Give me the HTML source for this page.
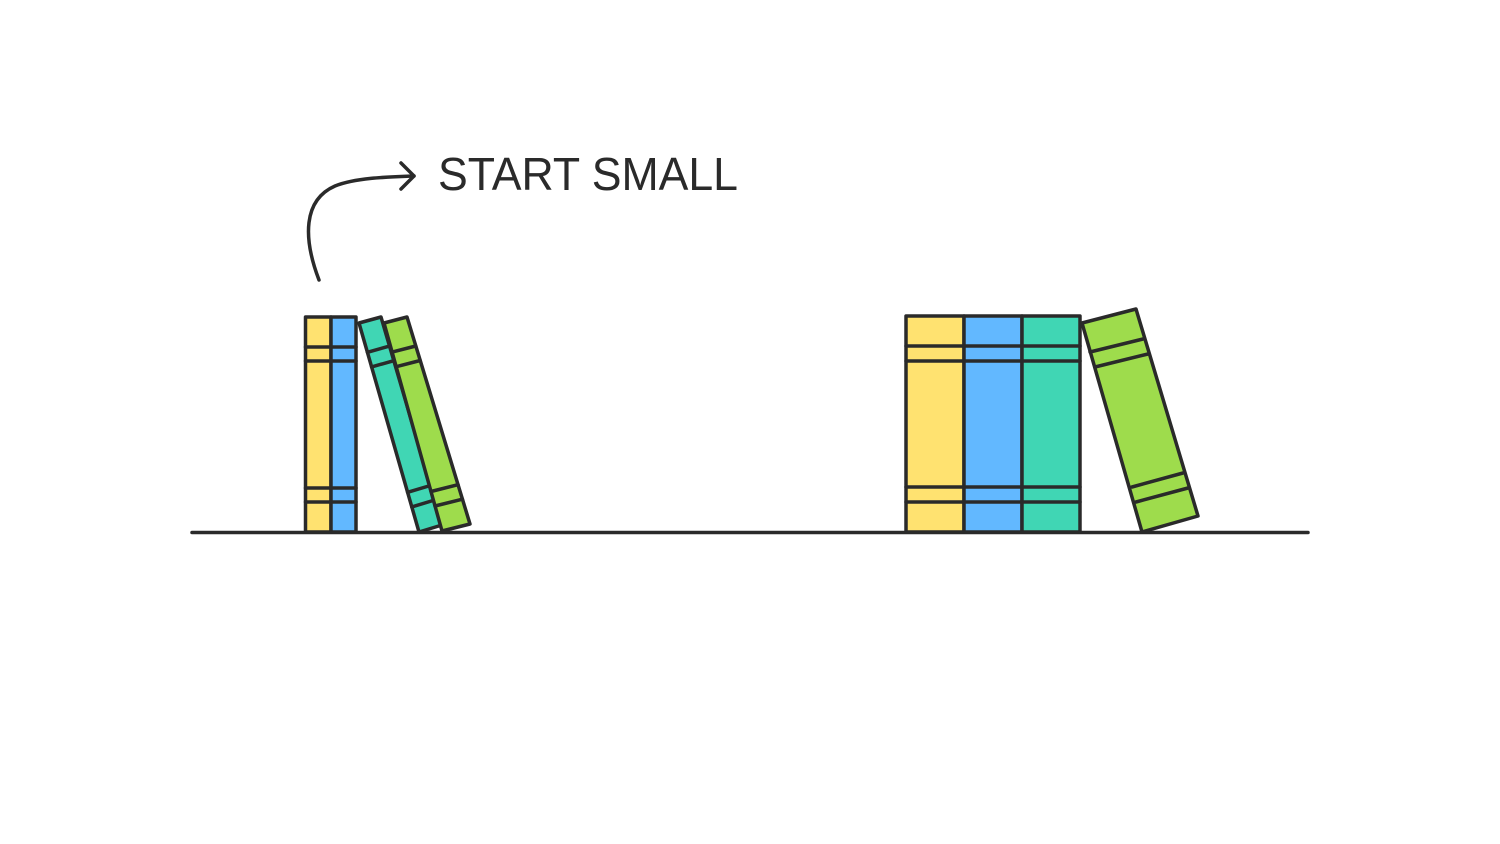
<!DOCTYPE html>
<html><head><meta charset="utf-8"><style>
html,body{margin:0;padding:0;background:#fff;width:1500px;height:844px;overflow:hidden}
</style></head><body>
<svg width="1500" height="844" viewBox="0 0 1500 844" xmlns="http://www.w3.org/2000/svg">
<g stroke="#2a2a2a" stroke-width="3.5" stroke-linejoin="round" stroke-linecap="round">
<rect x="305.5" y="317" width="25.5" height="215" fill="#FFE270"/>
<rect x="331" y="317" width="25" height="215" fill="#62B8FF"/>
<line x1="305.5" y1="347" x2="356" y2="347"/>
<line x1="305.5" y1="361" x2="356" y2="361"/>
<line x1="305.5" y1="488" x2="356" y2="488"/>
<line x1="305.5" y1="502" x2="356" y2="502"/>
<polygon points="359,323 381,317 442,525 419,532" fill="#40D6B4"/>
<line x1="367.4" y1="352.3" x2="389.5" y2="346.1"/>
<line x1="371.6" y1="366.9" x2="393.8" y2="360.7"/>
<line x1="407.6" y1="492.3" x2="430.4" y2="485.5"/>
<line x1="411.8" y1="506.9" x2="434.7" y2="500"/>
<polygon points="384,323 407,317 470,524 442,531" fill="#9EDC4C"/>
<line x1="392.1" y1="352.1" x2="415.8" y2="346"/>
<line x1="396.2" y1="366.7" x2="420.2" y2="360.5"/>
<line x1="431" y1="491.5" x2="458" y2="484.7"/>
<line x1="435" y1="506" x2="462.4" y2="499.2"/>
<rect x="906" y="316" width="58" height="216" fill="#FFE270"/>
<rect x="964" y="316" width="58" height="216" fill="#62B8FF"/>
<rect x="1022" y="316" width="58" height="216" fill="#40D6B4"/>
<line x1="906" y1="346" x2="1080" y2="346"/>
<line x1="906" y1="361" x2="1080" y2="361"/>
<line x1="906" y1="487" x2="1080" y2="487"/>
<line x1="906" y1="502" x2="1080" y2="502"/>
<polygon points="1082,323 1136,309 1198,516 1142,532" fill="#9EDC4C"/>
<line x1="1090" y1="352" x2="1143" y2="339"/>
<line x1="1095" y1="367" x2="1148" y2="354"/>
<line x1="1132" y1="487" x2="1183" y2="473"/>
<line x1="1136" y1="502" x2="1188" y2="488"/>
<line x1="192" y1="532.5" x2="1308" y2="532.5"/>
<path d="M319,280 C303,238 303,200 335,186 C355,178 385,177 414,176" fill="none"/>
<polyline points="401,163 414,176 401,189" fill="none"/>
</g>
<text x="438" y="190" font-family="Liberation Sans, sans-serif" font-size="46" fill="#2a2a2a" textLength="300" lengthAdjust="spacingAndGlyphs">START SMALL</text>
</svg>
</body></html>
